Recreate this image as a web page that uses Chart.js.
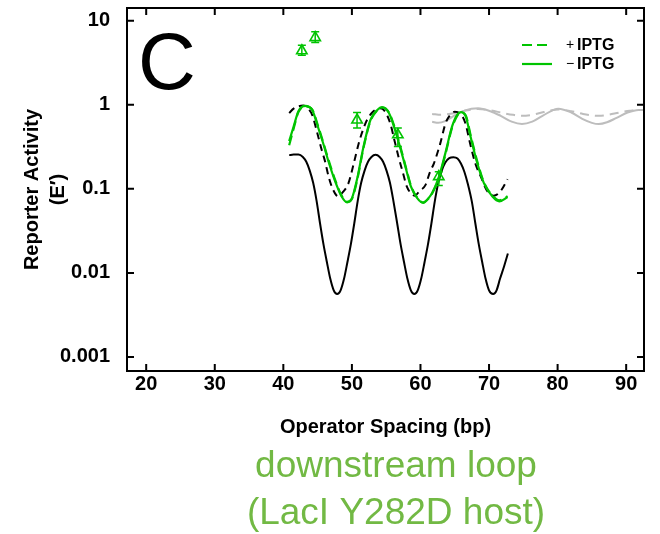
<!DOCTYPE html>
<html>
<head>
<meta charset="utf-8">
<script src="https://cdn.jsdelivr.net/npm/chart.js@4/dist/chart.umd.min.js"></script>
<style>
  html, body { margin: 0; padding: 0; background: #fff; }
  #wrap { width: 660px; height: 534px; }
</style>
</head>
<body>
<div id="wrap"><canvas id="chart" width="660" height="534"></canvas></div>
<script>
// values (operator spacing in bp, reporter activity)
const xTicks = [20, 30, 40, 50, 60, 70, 80, 90];
const yTicks = [0.001, 0.01, 0.1, 1, 10];

const blackSolidX = [40.85, 41.5, 42.2, 42.85, 43.35, 43.85, 44.35, 44.85, 45.35, 45.85, 46.35, 46.85, 47.35, 47.85, 48.35, 48.85, 49.35, 49.85, 50.35, 50.85, 51.35, 51.85, 52.35, 52.85, 53.45, 54.05, 54.55, 55.05, 55.55, 56.05, 56.6, 57.1, 57.6, 58.1, 58.6, 59.1, 59.6, 60.1, 60.6, 61.1, 61.6, 62.1, 62.6, 63.1, 63.6, 64.2, 64.8, 65.4, 65.9, 66.4, 66.9, 67.5, 68.0, 68.5, 69.0, 69.5, 70.0, 70.6, 71.1, 71.6, 72.2, 72.75];
const blackSolidY = [0.252, 0.256, 0.256, 0.24, 0.21, 0.165, 0.118, 0.072, 0.039, 0.022, 0.0135, 0.0085, 0.0062, 0.0056, 0.0062, 0.0085, 0.0135, 0.022, 0.039, 0.072, 0.118, 0.165, 0.21, 0.24, 0.254, 0.24, 0.21, 0.165, 0.118, 0.072, 0.039, 0.022, 0.0135, 0.0085, 0.0062, 0.0056, 0.0062, 0.0085, 0.0135, 0.022, 0.039, 0.072, 0.118, 0.165, 0.205, 0.232, 0.238, 0.23, 0.2, 0.16, 0.115, 0.07, 0.039, 0.022, 0.0135, 0.0085, 0.0062, 0.0056, 0.0062, 0.0085, 0.012, 0.017];

const blackDashX = [40.85, 41.5, 42.2, 42.9, 43.6, 44.2, 44.9, 45.6, 46.1, 46.6, 47.2, 47.95, 48.7, 49.5, 50.2, 51.0, 51.6, 52.2, 52.9, 53.5, 54.1, 54.8, 55.6, 56.2, 56.8, 57.4, 58.0, 58.6, 59.2, 59.9, 60.7, 61.4, 61.95, 62.9, 63.65, 64.3, 65.0, 65.7, 66.5, 67.3, 68.0, 68.8, 69.7, 70.65, 71.6, 72.7];
const blackDashY = [0.8, 0.9, 0.96, 0.98, 0.9, 0.76, 0.48, 0.29, 0.21, 0.14, 0.1, 0.082, 0.092, 0.117, 0.19, 0.35, 0.5, 0.66, 0.8, 0.88, 0.91, 0.84, 0.6, 0.38, 0.24, 0.16, 0.107, 0.089, 0.083, 0.095, 0.11, 0.16, 0.2, 0.35, 0.6, 0.75, 0.83, 0.8, 0.62, 0.33, 0.2, 0.14, 0.095, 0.083, 0.092, 0.13];

const greenX = [40.85, 41.5, 42.2, 43.2, 44.2, 45.1, 45.9, 46.6, 47.6, 48.5, 49.3, 50.0, 50.75, 51.7, 52.7, 53.7, 54.4, 55.4, 56.3, 57.3, 58.0, 58.6, 59.5, 60.4, 61.2, 61.7, 62.7, 63.65, 64.6, 65.35, 65.9, 66.6, 67.3, 68.3, 69.25, 70.5, 71.5, 72.7];
const greenMinusY = [0.37, 0.55, 0.84, 0.97, 0.87, 0.53, 0.33, 0.21, 0.12, 0.081, 0.069, 0.077, 0.13, 0.32, 0.66, 0.87, 0.94, 0.8, 0.5, 0.26, 0.16, 0.107, 0.078, 0.068, 0.078, 0.089, 0.14, 0.27, 0.55, 0.76, 0.82, 0.73, 0.42, 0.2, 0.117, 0.081, 0.071, 0.08];
const greenPlusY = [0.33, 0.52, 0.82, 0.96, 0.88, 0.55, 0.34, 0.22, 0.125, 0.083, 0.07, 0.076, 0.125, 0.31, 0.64, 0.86, 0.93, 0.81, 0.52, 0.27, 0.165, 0.11, 0.079, 0.069, 0.077, 0.088, 0.135, 0.26, 0.53, 0.74, 0.81, 0.75, 0.44, 0.21, 0.12, 0.083, 0.073, 0.082];

const greySolidX = [61.7, 62.6, 63.6, 65.0, 66.5, 68.4, 70.2, 71.7, 73.3, 74.8, 76.3, 77.8, 80.1, 82.0, 83.6, 85.0, 86.0, 87.2, 88.6, 90.2, 91.8, 92.6];
const greySolidY = [0.63, 0.61, 0.64, 0.75, 0.86, 0.91, 0.84, 0.74, 0.63, 0.59, 0.63, 0.74, 0.9, 0.81, 0.68, 0.61, 0.59, 0.62, 0.7, 0.81, 0.87, 0.87];
const greyDashX = [61.7, 63.0, 65.0, 66.8, 68.4, 70.2, 72.0, 73.5, 74.8, 76.3, 78.0, 80.1, 82.0, 83.7, 85.0, 86.0, 87.3, 89.0, 90.5, 91.8, 92.6];
const greyDashY = [0.78, 0.76, 0.8, 0.86, 0.89, 0.86, 0.8, 0.76, 0.74, 0.76, 0.82, 0.88, 0.84, 0.78, 0.75, 0.74, 0.76, 0.81, 0.85, 0.87, 0.87];

const measuredX = [42.7, 44.65, 50.75, 56.7, 62.67];
const measuredY = [4.4, 6.3, 0.66, 0.44, 0.14];
const measuredLow = [3.9, 5.5, 0.53, 0.32, 0.11];
const measuredHigh = [5.1, 7.4, 0.81, 0.53, 0.16];

const GREEN = "#00c400";
const GREY = "#bdbdbd";
const FONT = "'Liberation Sans', Arial, Helvetica, sans-serif";
const TICK = 7;

function points(xs, ys) {
  return xs.map((x, i) => ({ x, y: ys[i] }));
}

function curve(label, xs, ys, color, dash, order, width) {
  return {
    label,
    data: points(xs, ys),
    showLine: true,
    borderColor: color,
    borderWidth: width || 2,
    borderDash: dash || [],
    pointRadius: 0,
    pointHoverRadius: 0,
    cubicInterpolationMode: "monotone",
    fill: false,
    order,
  };
}

const datasets = [
  {
    label: "measured",
    data: points(measuredX, measuredY),
    low: measuredLow,
    high: measuredHigh,
    pointStyle: "triangle",
    pointRadius: 6,
    borderColor: GREEN,
    backgroundColor: "rgba(255,255,255,0)",
    borderWidth: 1.6,
    order: 0,
  },
  Object.assign(curve("−IPTG", greenX, greenMinusY, GREEN, [], 1, 2.2), { legend: true, sign: "−" }),
  Object.assign(curve("+IPTG", greenX, greenPlusY, GREEN, [10, 5], 2, 2.2), { legend: true, sign: "+" }),
  curve("wt +IPTG", blackDashX, blackDashY, "#000", [7, 5], 3),
  curve("wt −IPTG", blackSolidX, blackSolidY, "#000", [], 4),
  curve("grey +IPTG", greyDashX, greyDashY, GREY, [9, 6], 5),
  curve("grey −IPTG", greySolidX, greySolidY, GREY, [], 6),
];

const errorBars = {
  id: "errorBars",
  afterDatasetsDraw(chart) {
    const { ctx, scales } = chart;
    const ds = chart.data.datasets[0];
    ctx.save();
    ctx.strokeStyle = GREEN;
    ctx.lineWidth = 1.5;
    ctx.beginPath();
    ds.data.forEach((p, i) => {
      const px = scales.x.getPixelForValue(p.x);
      const lo = scales.y.getPixelForValue(ds.low[i]);
      const hi = scales.y.getPixelForValue(ds.high[i]);
      ctx.moveTo(px, lo); ctx.lineTo(px, hi);
      ctx.moveTo(px - 4, lo); ctx.lineTo(px + 4, lo);
      ctx.moveTo(px - 4, hi); ctx.lineTo(px + 4, hi);
    });
    ctx.stroke();
    ctx.restore();
  },
};

const frame = {
  id: "frame",
  afterDraw(chart) {
    const { ctx, chartArea: a, scales } = chart;
    ctx.save();
    ctx.strokeStyle = "#000";
    ctx.lineWidth = 2;
    ctx.strokeRect(a.left, a.top, a.right - a.left, a.bottom - a.top);
    ctx.beginPath();
    xTicks.forEach((v) => {
      const px = scales.x.getPixelForValue(v);
      ctx.moveTo(px, a.bottom); ctx.lineTo(px, a.bottom - TICK);
      ctx.moveTo(px, a.top); ctx.lineTo(px, a.top + TICK);
    });
    yTicks.forEach((v) => {
      const py = scales.y.getPixelForValue(v);
      ctx.moveTo(a.left, py); ctx.lineTo(a.left + TICK, py);
      ctx.moveTo(a.right, py); ctx.lineTo(a.right - TICK, py);
    });
    ctx.stroke();

    // panel letter
    ctx.fillStyle = "#000";
    ctx.font = "80px " + FONT;
    ctx.textAlign = "left";
    ctx.textBaseline = "alphabetic";
    ctx.fillText("C", 138, 89);

    // legend for the green curves
    const items = chart.data.datasets.filter((d) => d.legend).reverse();
    items.forEach((d, i) => {
      const y = 45 + i * 19;
      ctx.strokeStyle = d.borderColor;
      ctx.lineWidth = d.borderWidth;
      ctx.setLineDash(d.borderDash);
      ctx.beginPath();
      ctx.moveTo(522, y); ctx.lineTo(552, y);
      ctx.stroke();
      ctx.setLineDash([]);
      ctx.fillStyle = "#000";
      ctx.textBaseline = "middle";
      ctx.font = "14px " + FONT;
      ctx.fillText(d.sign, 566, y);
      ctx.font = "bold 16px " + FONT;
      ctx.fillText("IPTG", 577, y + 1);
    });

    // caption under the axis
    ctx.fillStyle = "#72b944";
    ctx.font = "37px " + FONT;
    ctx.textAlign = "center";
    ctx.textBaseline = "alphabetic";
    ctx.fillText("downstream loop", 396, 477);
    ctx.fillText("(LacI Y282D host)", 396, 524);
    ctx.restore();
  },
};

new Chart(document.getElementById("chart"), {
  type: "scatter",
  data: { datasets },
  options: {
    responsive: false,
    animation: false,
    events: [],
    layout: { padding: { left: 0, top: 8, right: 16, bottom: 0 } },
    plugins: { legend: { display: false }, tooltip: { enabled: false } },
    scales: {
      x: {
        type: "linear",
        min: 17.2,
        max: 92.6,
        grid: { display: false, drawTicks: false },
        border: { display: false },
        afterBuildTicks: (scale) => { scale.ticks = xTicks.map((v) => ({ value: v })); },
        afterFit: (scale) => {
          scale.height = 163;
          scale.paddingLeft = 0;
          scale.paddingRight = 0;
        },
        ticks: {
          autoSkip: false,
          maxRotation: 0,
          padding: 1,
          color: "#000",
          font: { family: FONT, size: 20, weight: "bold" },
          callback: (v) => String(v),
        },
        title: {
          display: true,
          text: "Operator Spacing (bp)",
          color: "#000",
          font: { family: FONT, size: 20, weight: "bold", lineHeight: 1.3 },
          padding: { top: 0, bottom: 94 },
        },
      },
      y: {
        type: "logarithmic",
        min: 0.00068,
        max: 14.2,
        grid: { display: false, drawTicks: false },
        border: { display: false },
        afterBuildTicks: (scale) => { scale.ticks = yTicks.map((v) => ({ value: v })); },
        afterFit: (scale) => {
          scale.width = 127;
          scale.paddingTop = 0;
          scale.paddingBottom = 0;
        },
        ticks: {
          autoSkip: false,
          padding: 17,
          color: "#000",
          font: { family: FONT, size: 20, weight: "bold" },
          callback: (v) => String(v),
        },
        title: {
          display: true,
          text: ["Reporter Activity", "(E′)"],
          color: "#000",
          font: { family: FONT, size: 20, weight: "bold", lineHeight: 1.3 },
          padding: { top: 19, bottom: 0 },
        },
      },
    },
  },
  plugins: [errorBars, frame],
});
</script>
</body>
</html>
